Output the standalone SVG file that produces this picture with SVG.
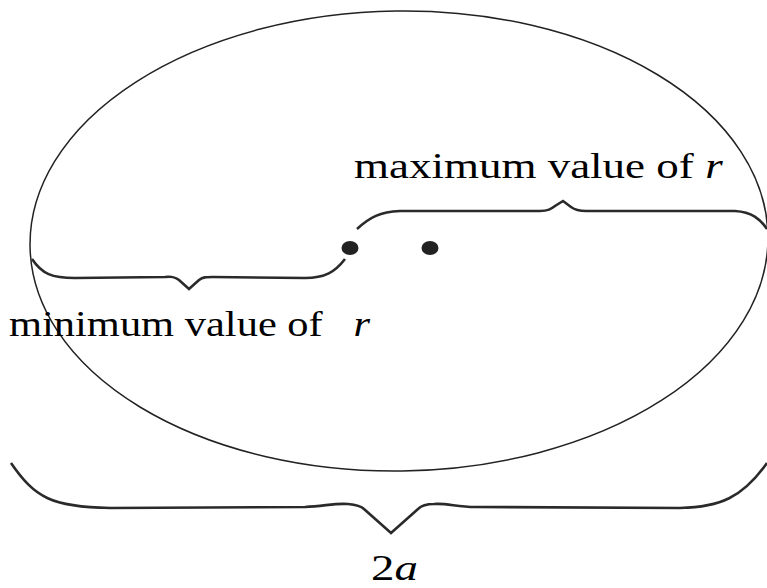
<svg xmlns="http://www.w3.org/2000/svg" width="767" height="588" viewBox="0 0 767 588">
  <style>
    .orbit { fill: none; stroke: #222; stroke-width: 1.5; }
    .brace { fill: none; stroke: #2a2a2a; stroke-width: 2.6; stroke-linejoin: miter; stroke-linecap: butt; }
    .dot { fill: #222; }
    .lbl { font-family: "Liberation Serif", "Times New Roman", serif; font-size: 36px; fill: #000; }
    .it { font-style: italic; }
  </style>
  <rect width="767" height="588" fill="#fff"/>
  <g id="ellipse">
    <ellipse class="orbit" cx="399" cy="241" rx="369" ry="230" transform="rotate(-0.8 399 241)"/>
  </g>
  <g id="foci">
    <ellipse class="dot" cx="350" cy="248" rx="8.5" ry="7"/>
    <ellipse class="dot" cx="430" cy="248" rx="8.5" ry="7"/>
  </g>
  <g id="connectors">
    <path id="brace-max" class="brace" d="M357,229 C370,217 380,212 400,211 L540,211 C548,211 551,209 555,206 L563,201 L571,207 C575,210 578,211 586,211 L735,211 C752,212 760,219 767,229"/>
    <path id="brace-min" class="brace" d="M32,259 C42,274 52,278 75,278 L165,277 C172,276 175,277 179,280 L189,289 L199,280 C203,277 206,277 213,277 L305,278 C325,278 335,272 345,259"/>
    <path id="brace-2a" class="brace" d="M11,463 C35,498 52,507 110,508 L305,507 C325,506 335,503 348,504 C357,505 361,506 364,509 L391,533 L418,509 C421,506 425,504 434,504 C447,503 457,507 475,507 L680,508 C720,507 742,498 767,463"/>
  </g>
  <g id="label-max">
    <text class="lbl" transform="translate(354,178) scale(1.25,1)">maximum value of <tspan class="it" x="281">r</tspan></text>
  </g>
  <g id="label-min">
    <text class="lbl" transform="translate(9,336) scale(1.18,1)">minimum value of <tspan class="it" x="292">r</tspan></text>
  </g>
  <g id="label-2a">
    <text class="lbl" transform="translate(371,580) scale(1.3,1)">2<tspan class="it">a</tspan></text>
  </g>
</svg>
